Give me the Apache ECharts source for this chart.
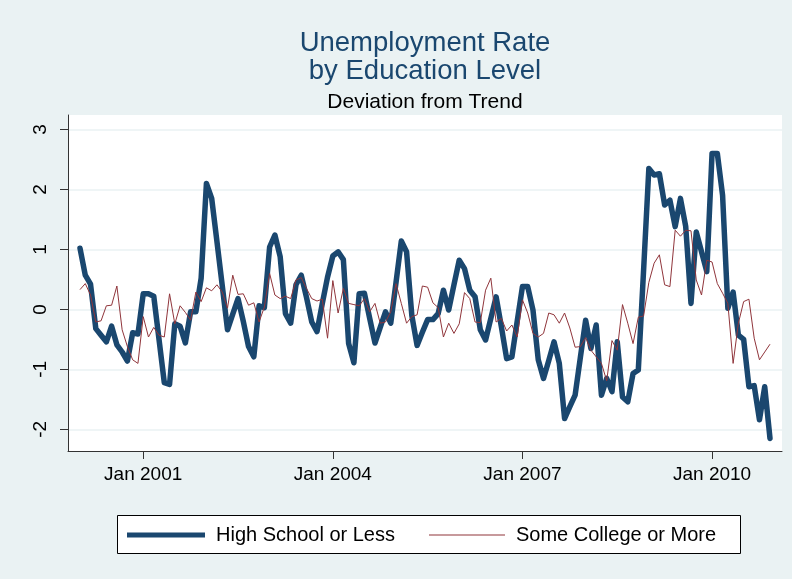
<!DOCTYPE html>
<html>
<head>
<meta charset="utf-8">
<script src="https://cdn.jsdelivr.net/npm/echarts@6/dist/echarts.min.js"></script>
<style>
html,body{margin:0;padding:0;background:#EAF2F3;}
#c{width:792px;height:579px;}
</style>
</head>
<body>
<div id="c"></div>
<script>
// Monthly deviations from trend, Jan 2000 .. Dec 2010
const startYear = 2000;
const highSchool = [
 1.02, 0.57, 0.42, -0.32, -0.43, -0.54, -0.28, -0.59, -0.71, -0.86, -0.39, -0.41,
 0.26, 0.26, 0.22, -0.50, -1.22, -1.25, -0.24, -0.28, -0.56, -0.04, -0.04, 0.52,
 2.10, 1.85, 1.13, 0.40, -0.34, -0.08, 0.18, -0.20, -0.62, -0.79, 0.06, 0.03,
 1.04, 1.24, 0.88, -0.07, -0.23, 0.41, 0.57, 0.20, -0.21, -0.37, 0.10, 0.54,
 0.89, 0.96, 0.83, -0.57, -0.89, 0.26, 0.27, -0.15, -0.56, -0.30, -0.04, -0.23,
 0.45, 1.14, 0.96, -0.10, -0.60, -0.38, -0.17, -0.17, -0.07, 0.32, -0.01, 0.41,
 0.82, 0.68, 0.32, 0.21, -0.34, -0.51, -0.15, 0.21, -0.29, -0.82, -0.79, -0.20,
 0.38, 0.38, -0.01, -0.84, -1.15, -0.85, -0.54, -0.90, -1.82, -1.62, -1.43, -0.80,
 -0.18, -0.65, -0.26, -1.43, -1.15, -1.37, -0.54, -1.46, -1.54, -1.07, -1.01, 0.65,
 2.35, 2.24, 2.26, 1.74, 1.82, 1.38, 1.85, 1.38, 0.10, 1.29, 0.96, 0.63,
 2.60, 2.60, 1.90, 0.02, 0.29, -0.43, -0.50, -1.29, -1.27, -1.84, -1.29, -2.15
];
const someCollege = [
 0.33, 0.43, 0.24, -0.21, -0.19, 0.06, 0.07, 0.39, -0.34, -0.62, -0.84, -0.90,
 -0.12, -0.46, -0.30, -0.43, -0.46, 0.26, -0.24, 0.06, -0.05, -0.18, 0.29, 0.13,
 0.36, 0.31, 0.41, 0.29, 0.02, 0.57, 0.25, 0.26, 0.07, 0.11, -0.21, 0.04,
 0.60, 0.24, 0.18, 0.22, 0.18, 0.49, 0.53, 0.35, 0.18, 0.14, 0.17, -0.48,
 0.48, -0.06, 0.35, 0.10, 0.08, 0.06, 0.18, -0.04, 0.10, -0.23, -0.21, -0.04,
 0.43, 0.10, -0.23, -0.12, -0.09, 0.39, 0.37, 0.11, 0.03, -0.46, -0.23, -0.40,
 -0.24, 0.28, 0.18, -0.21, -0.22, 0.32, 0.52, -0.21, -0.15, -0.36, -0.26, -0.46,
 0.16, -0.06, -0.40, -0.46, -0.40, -0.06, -0.09, -0.23, -0.06, -0.31, -0.63, -0.62,
 -0.47, -0.68, -0.79, -0.90, -1.19, -0.52, -0.68, 0.08, -0.23, -0.57, -0.13, -0.11,
 0.45, 0.77, 0.91, 0.41, 0.38, 1.32, 1.22, 1.32, 1.31, 0.49, 0.24, 0.82,
 0.79, 0.43, 0.27, 0.10, -0.90, -0.23, 0.13, 0.17, -0.48, -0.84, -0.71, -0.58
];
const tickMonths = [12, 48, 84, 120];
const tickLabels = ['Jan 2001', 'Jan 2004', 'Jan 2007', 'Jan 2010'];
const yTicks = [-2, -1, 0, 1, 2, 3];
const seriesNames = ['High School or Less', 'Some College or More'];

const monthNames = ['Jan','Feb','Mar','Apr','May','Jun','Jul','Aug','Sep','Oct','Nov','Dec'];
const months = highSchool.map((_, i) => monthNames[i % 12] + ' ' + (startYear + Math.floor(i / 12)));

const hsData = highSchool.map((v, i) => [i, v]);
const scData = someCollege.map((v, i) => [i, v]);

const FONT = '"Liberation Sans", Arial, Helvetica, sans-serif';
const chart = echarts.init(document.getElementById('c'), null, {renderer: 'canvas'});
chart.setOption({
  animation: false,
  backgroundColor: '#EAF2F3',
  textStyle: {fontFamily: FONT},
  graphic: [
    {type: 'text', x: 425, y: 43, style: {text: 'Unemployment Rate', fill: '#1A476F', font: '27.5px ' + FONT, textAlign: 'center', textVerticalAlign: 'middle'}},
    {type: 'text', x: 425, y: 71, style: {text: 'by Education Level', fill: '#1A476F', font: '27.5px ' + FONT, textAlign: 'center', textVerticalAlign: 'middle'}},
    {type: 'text', x: 425, y: 102, style: {text: 'Deviation from Trend', fill: '#000', font: '21px ' + FONT, textAlign: 'center', textVerticalAlign: 'middle'}},
    {type: 'rect', z: -1, shape: {x: 117.5, y: 515.5, width: 623, height: 38}, style: {fill: '#fff', stroke: '#000', lineWidth: 1}}
  ],
  grid: {left: 68, right: 10, top: 115, bottom: 128, show: true, backgroundColor: '#ffffff', borderWidth: 0},
  xAxis: {
    type: 'value', min: -2.28, max: 133.28,
    axisLine: {show: true, onZero: false, lineStyle: {color: '#333', width: 1}},
    axisTick: {show: true, length: 8, customValues: tickMonths, lineStyle: {color: '#333'}},
    axisLabel: {customValues: tickMonths, margin: 14, fontSize: 19, color: '#000', fontFamily: FONT,
      formatter: v => tickLabels[tickMonths.indexOf(Math.round(v))] || ''},
    splitLine: {show: false}
  },
  yAxis: {
    type: 'value', min: -2.36, max: 3.24,
    axisLine: {show: true, onZero: false, lineStyle: {color: '#333', width: 1}},
    axisTick: {show: true, length: 8, customValues: yTicks, lineStyle: {color: '#333'}},
    axisLabel: {customValues: yTicks, rotate: 90, margin: 18, fontSize: 19, color: '#000', fontFamily: FONT},
    splitLine: {show: true, lineStyle: {color: '#EAF2F3', width: 1.5}}
  },
  legend: [
    {data: [seriesNames[0]], left: 127, top: 525, icon: 'rect', itemWidth: 78, itemHeight: 5, padding: 0,
     textStyle: {fontSize: 20, color: '#000', fontFamily: FONT, padding: [0, 0, 0, 6]}},
    {data: [seriesNames[1]], left: 429, top: 525, icon: 'rect', itemWidth: 76, itemHeight: 1, padding: 0,
     textStyle: {fontSize: 20, color: '#000', fontFamily: FONT, padding: [0, 0, 0, 6]}}
  ],
  series: [
    {name: seriesNames[0], type: 'line', data: hsData, symbol: 'none', showSymbol: false, z: 2,
     itemStyle: {color: '#1A476F'}, lineStyle: {color: '#1A476F', width: 5.5, join: 'round', cap: 'round'}},
    {name: seriesNames[1], type: 'line', data: scData, symbol: 'none', showSymbol: false, z: 3,
     itemStyle: {color: '#90353B'}, lineStyle: {color: '#90353B', width: 1}}
  ]
});
</script>
</body>
</html>
